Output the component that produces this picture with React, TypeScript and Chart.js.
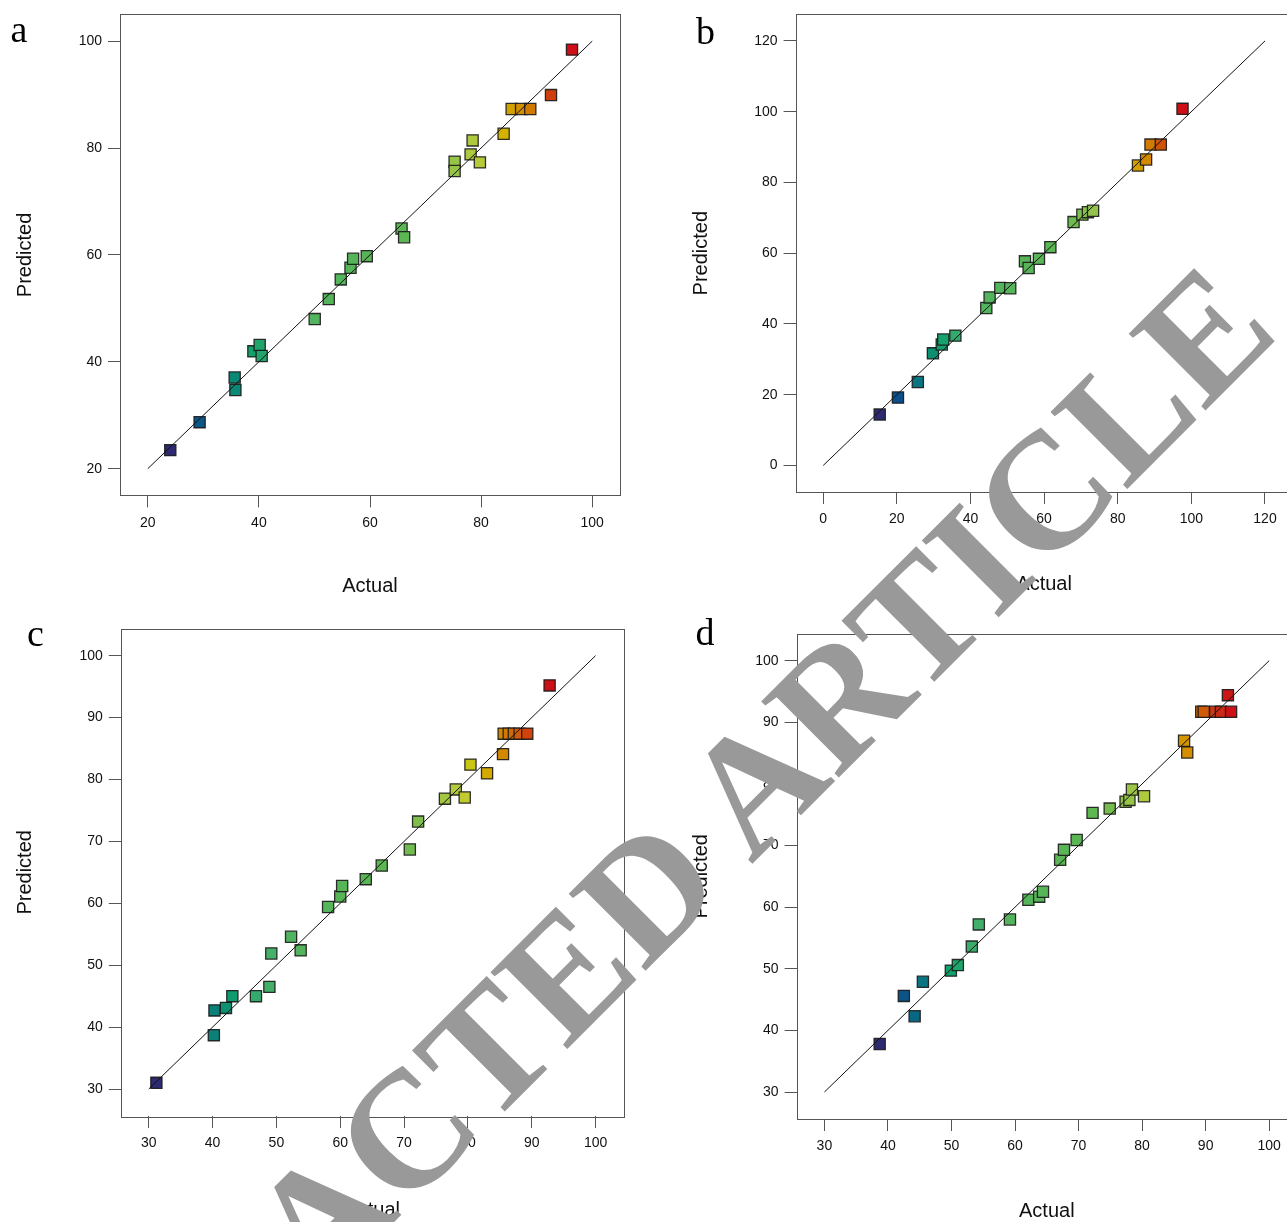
import React, { useEffect, useRef } from 'react';
import { Chart, registerables } from 'chart.js';

Chart.register(...registerables);

// ---------- Panel a ----------
const aActual = [24.05, 29.33, 35.64, 35.77, 39.01, 40.14, 40.5, 50.05, 52.58, 54.74, 56.49, 56.96, 59.42, 65.68, 66.14, 75.23, 75.23, 78.47, 78.11, 79.78, 84.05, 85.5, 87.2, 88.85, 92.58, 96.36];
const aPredicted = [23.47, 28.7, 37.05, 34.73, 41.96, 43.14, 41.08, 47.99, 51.73, 55.41, 57.59, 59.27, 59.76, 64.93, 63.31, 77.44, 75.7, 81.42, 78.81, 77.31, 82.67, 87.3, 87.3, 87.3, 89.9, 98.41];
const aTicks = [20, 40, 60, 80, 100];

// ---------- Panel b ----------
const bActual = [15.35, 20.3, 25.7, 29.8, 32.2, 32.6, 35.9, 44.3, 45.2, 48.1, 50.8, 54.8, 55.8, 58.6, 61.7, 68.0, 70.4, 71.9, 73.3, 85.5, 87.7, 88.9, 91.7, 97.6];
const bPredicted = [14.4, 19.2, 23.6, 31.7, 34.2, 35.6, 36.7, 44.5, 47.5, 50.2, 50.1, 57.7, 55.8, 58.4, 61.7, 68.8, 70.9, 71.6, 72.0, 84.8, 86.5, 90.7, 90.7, 100.8];
const bTicks = [0, 20, 40, 60, 80, 100, 120];

// ---------- Panel c ----------
const cActual = [31.2, 40.2, 40.3, 42.1, 43.1, 46.8, 48.9, 49.2, 52.3, 53.8, 58.1, 60.0, 60.3, 64.0, 66.5, 70.9, 72.2, 76.4, 78.1, 79.5, 80.4, 83.0, 85.5, 85.6, 86.4, 87.2, 88.1, 89.3, 92.8];
const cPredicted = [31.0, 38.7, 42.7, 43.1, 45.0, 45.0, 46.5, 51.9, 54.6, 52.4, 59.4, 61.1, 62.8, 63.9, 66.1, 68.7, 73.2, 76.9, 78.4, 77.1, 82.4, 81.0, 84.1, 87.4, 87.4, 87.4, 87.4, 87.4, 95.2];
const cTicks = [30, 40, 50, 60, 70, 80, 90, 100];

// ---------- Panel d ----------
const dActual = [38.7, 42.5, 44.2, 45.5, 49.9, 51.0, 53.2, 54.3, 59.2, 62.1, 63.8, 64.4, 67.1, 67.7, 69.7, 72.2, 74.9, 77.4, 78.0, 78.4, 80.3, 86.6, 87.1, 89.3, 89.7, 91.5, 92.4, 94.0, 93.5];
const dPredicted = [37.8, 45.6, 42.3, 47.9, 49.7, 50.6, 53.6, 57.2, 58.0, 61.2, 61.7, 62.5, 67.7, 69.3, 70.9, 75.3, 76.0, 77.1, 77.4, 79.1, 78.0, 87.0, 85.1, 91.7, 91.7, 91.7, 91.7, 91.7, 94.4];
const dTicks = [30, 40, 50, 60, 70, 80, 90, 100];

const xTitle = 'Actual';
const yTitle = 'Predicted';
const watermark = 'RETRACTED ARTICLE';

// colour ramp (style only)
const rampStops: [number, string][] = [
  [0.0, '#2d2a72'],
  [0.06, '#0b4f8a'],
  [0.12, '#0a7282'],
  [0.17, '#0b8c72'],
  [0.2, '#0fa06c'],
  [0.27, '#40ae6c'],
  [0.35, '#52b45e'],
  [0.6, '#5cb652'],
  [0.68, '#84c04c'],
  [0.74, '#a8c842'],
  [0.78, '#bccc36'],
  [0.81, '#d0c400'],
  [0.84, '#d4aa00'],
  [0.88, '#d48a00'],
  [0.91, '#d06a04'],
  [0.94, '#d0460a'],
  [0.97, '#cc2a12'],
  [1.0, '#cc1016'],
];

function hexToRgb(h: string) {
  const n = parseInt(h.slice(1), 16);
  return [(n >> 16) & 255, (n >> 8) & 255, n & 255];
}

function ramp(t: number) {
  t = Math.max(0, Math.min(1, t));
  for (let i = 1; i < rampStops.length; i++) {
    const [t1, c1] = rampStops[i];
    const [t0, c0] = rampStops[i - 1];
    if (t <= t1) {
      const f = (t - t0) / (t1 - t0 || 1);
      const a = hexToRgb(c0);
      const b = hexToRgb(c1);
      const r = a.map((v, k) => Math.round(v + (b[k] - v) * f));
      return `rgb(${r[0]},${r[1]},${r[2]})`;
    }
  }
  return rampStops[rampStops.length - 1][1];
}

type PanelSpec = {
  actual: number[];
  predicted: number[];
  ticks: number[];
  lo: number;
  hi: number;
  min: number;
  max: number;
  x0: number;
  y0: number;
  w: number;
  h: number;
  yAxisW: number;
  xAxisH: number;
  padTop: number;
  padRight: number;
  yTitlePad: number;
  xTitlePad: number;
};

const boxPlugin = {
  id: 'boxFrame',
  beforeDatasetsDraw(chart: any) {
    const { ctx, chartArea } = chart;
    ctx.save();
    ctx.strokeStyle = '#555';
    ctx.lineWidth = 1;
    ctx.strokeRect(
      Math.round(chartArea.left) + 0.5,
      Math.round(chartArea.top) + 0.5,
      Math.round(chartArea.right - chartArea.left),
      Math.round(chartArea.bottom - chartArea.top)
    );
    ctx.restore();
  },
};

function Panel({ spec }: { spec: PanelSpec }) {
  const ref = useRef<HTMLCanvasElement | null>(null);
  useEffect(() => {
    if (!ref.current) return;
    const mn = Math.min(...spec.actual);
    const mx = Math.max(...spec.actual);
    const pts = spec.actual.map((a, i) => ({ x: a, y: spec.predicted[i] }));
    const colors = spec.actual.map((a) => ramp((a - mn) / (mx - mn)));
    const font = { family: '"Liberation Sans", Arial, sans-serif', size: 14 };
    const titleFont = { family: '"Liberation Sans", Arial, sans-serif', size: 20 };
    const chart = new Chart(ref.current, {
      type: 'scatter',
      data: {
        datasets: [
          {
            type: 'line',
            data: [
              { x: spec.lo, y: spec.lo },
              { x: spec.hi, y: spec.hi },
            ],
            borderColor: '#111',
            borderWidth: 1,
            pointRadius: 0,
            showLine: true,
            order: 0,
          } as any,
          {
            data: pts,
            pointStyle: 'rect',
            pointRadius: 7.9,
            pointHoverRadius: 7.9,
            backgroundColor: colors,
            borderColor: 'rgba(25,25,25,0.9)',
            borderWidth: 1.3,
            order: 1,
          },
        ],
      },
      options: {
        animation: false,
        responsive: false,
        devicePixelRatio: 1,
        events: [],
        layout: { padding: { left: 0, top: spec.padTop, right: spec.padRight, bottom: 0 } },
        plugins: { legend: { display: false }, tooltip: { enabled: false } },
        scales: {
          x: {
            type: 'linear',
            min: spec.min,
            max: spec.max,
            afterBuildTicks: (scale: any) => {
              scale.ticks = spec.ticks.map((v) => ({ value: v }));
            },
            afterFit: (scale: any) => {
              scale.height = spec.xAxisH;
            },
            grid: {
              display: true,
              drawOnChartArea: false,
              drawTicks: true,
              tickLength: 12,
              color: '#555',
              tickColor: '#555',
            },
            border: { display: false },
            ticks: { color: '#111', font, padding: 7, maxRotation: 0, autoSkip: false },
            title: {
              display: true,
              text: xTitle,
              color: '#111',
              font: titleFont,
              padding: { top: 0, bottom: spec.xTitlePad },
            },
          },
          y: {
            type: 'linear',
            min: spec.min,
            max: spec.max,
            afterBuildTicks: (scale: any) => {
              scale.ticks = spec.ticks.map((v) => ({ value: v }));
            },
            afterFit: (scale: any) => {
              scale.width = spec.yAxisW;
            },
            grid: {
              display: true,
              drawOnChartArea: false,
              drawTicks: true,
              tickLength: 12,
              color: '#555',
              tickColor: '#555',
            },
            border: { display: false },
            ticks: { color: '#111', font, padding: 6, autoSkip: false },
            title: {
              display: true,
              text: yTitle,
              color: '#111',
              font: titleFont,
              padding: { top: spec.yTitlePad, bottom: 0 },
            },
          },
        },
      },
      plugins: [boxPlugin],
    } as any);
    return () => chart.destroy();
  }, [spec]);
  return (
    <canvas
      ref={ref}
      width={spec.w}
      height={spec.h}
      style={{ position: 'absolute', left: spec.x0, top: spec.y0, width: spec.w, height: spec.h }}
    />
  );
}

const panels: PanelSpec[] = [
  { actual: aActual, predicted: aPredicted, ticks: aTicks, lo: 20, hi: 100, min: 15, max: 105, x0: 0, y0: 0, w: 643, h: 612, yAxisW: 120, xAxisH: 116.6, padTop: 13.4, padRight: 23, yTitlePad: 13, xTitlePad: 14 },
  { actual: bActual, predicted: bPredicted, ticks: bTicks, lo: 0, hi: 120, min: -7.5, max: 127.5, x0: 643, y0: 0, w: 667, h: 612, yAxisW: 152.6, xAxisH: 120, padTop: 13.6, padRight: 17.4, yTitlePad: 46.5, xTitlePad: 16 },
  { actual: cActual, predicted: cPredicted, ticks: cTicks, lo: 30, hi: 100, min: 25.625, max: 104.375, x0: 0, y0: 612, w: 643, h: 610, yAxisW: 120.8, xAxisH: 105.9, padTop: 16.6, padRight: 19.5, yTitlePad: 13, xTitlePad: 0 },
  { actual: dActual, predicted: dPredicted, ticks: dTicks, lo: 30, hi: 100, min: 25.625, max: 104.375, x0: 643, y0: 612, w: 667, h: 610, yAxisW: 153.6, xAxisH: 103, padTop: 21.7, padRight: 13, yTitlePad: 46.5, xTitlePad: -1 },
];

const panelLabels = [
  { text: 'a', left: 10.5, top: 9.5 },
  { text: 'b', left: 696, top: 12 },
  { text: 'c', left: 27, top: 614 },
  { text: 'd', left: 695.5, top: 613 },
];

export default function App() {
  return (
    <div
      style={{
        position: 'absolute',
        left: 0,
        top: 0,
        width: 1287,
        height: 1222,
        overflow: 'hidden',
        background: '#fff',
      }}
    >
      {panels.map((p, i) => (
        <Panel key={i} spec={p} />
      ))}
      {panelLabels.map((l) => (
        <div
          key={l.text}
          style={{
            position: 'absolute',
            left: l.left,
            top: l.top,
            font: '38px "Liberation Serif", "Times New Roman", serif',
            lineHeight: 1,
            color: '#000',
          }}
        >
          {l.text}
        </div>
      ))}
      <div
        style={{
          position: 'absolute',
          left: 597,
          top: 940,
          transform: 'translate(-50%, -50%) rotate(-45deg)',
          font: 'bold 166px "Liberation Serif", "Times New Roman", serif',
          lineHeight: 1,
          color: '#999999',
          whiteSpace: 'nowrap',
          pointerEvents: 'none',
        }}
      >
        {watermark}
      </div>
    </div>
  );
}
